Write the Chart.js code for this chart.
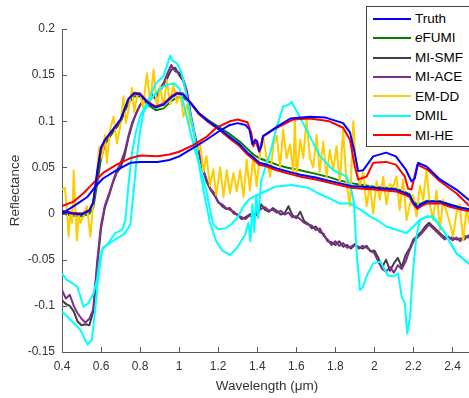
<!DOCTYPE html>
<html lang="en">
<head>
<meta charset="UTF-8">
<title>Target signatures</title>
<script src="https://cdn.jsdelivr.net/npm/chart.js@4.4.1/dist/chart.umd.min.js"></script>
<style>
    html, body { margin: 0; padding: 0; background: #fff; overflow: hidden; }
    .wrap { position: relative; width: 469px; height: 398px; overflow: hidden; }
    #spectra { position: absolute; left: 0; top: 0; }
    .legend {
        position: absolute; left: 366px; top: 6px;
        width: 130px; height: 141px; box-sizing: border-box;
        border: 1px solid #444; background: #fff;
        padding-top: 2px;
        font: 13.5px "Liberation Sans", Arial, sans-serif; color: #000;
    }
    .legend div { position: relative; height: 19.45px; line-height: 19.45px; padding-left: 48px; }
    .legend span { position: absolute; left: 6px; top: calc(50% - 1px); width: 38px; height: 2px; }
</style>
</head>
<body>
<div class="wrap">
    <canvas id="spectra" width="480" height="398"></canvas>
    <div class="legend" id="legend"></div>
</div>

<script>
// --- axis ticks ---
const xTicks = [0.4, 0.6, 0.8, 1.0, 1.2, 1.4, 1.6, 1.8, 2.0, 2.2, 2.4];
const yTicks = [-0.15, -0.1, -0.05, 0, 0.05, 0.1, 0.15, 0.2];

// --- spectra (wavelength in um, reflectance) ---
const truthAWl = [0.40,0.45,0.50,0.54,0.56,0.58,0.60,0.62,0.66,0.70,
    0.74,0.77,0.80,0.84,0.88,0.92,0.96,0.99,1.02,1.06,
    1.10,1.15,1.21,1.26,1.31,1.35,1.38,1.41,1.45,1.50,
    1.55,1.62,1.70,1.76,1.82,1.88,1.94,2.00,2.06,2.11,
    2.15,2.18,2.20,2.22,2.24,2.27,2.34,2.39,2.45,2.50];
const truthA = [0.002,0.000,-0.001,0.003,0.012,0.045,0.072,0.080,0.091,0.102,
    0.124,0.130,0.129,0.120,0.115,0.118,0.126,0.130,0.129,0.120,
    0.109,0.100,0.091,0.083,0.075,0.066,0.061,0.055,0.053,0.049,
    0.046,0.042,0.039,0.036,0.033,0.030,0.029,0.028,0.027,0.026,
    0.023,0.020,0.012,0.007,0.010,0.013,0.013,0.009,0.006,0.004];
const miheA = [0.003,0.001,0.000,0.004,0.012,0.043,0.070,0.079,0.090,0.101,
    0.124,0.131,0.130,0.121,0.116,0.119,0.127,0.131,0.130,0.119,
    0.108,0.099,0.090,0.081,0.073,0.064,0.059,0.053,0.051,0.047,
    0.044,0.040,0.037,0.034,0.031,0.028,0.027,0.026,0.025,0.024,
    0.021,0.018,0.010,0.005,0.008,0.011,0.011,0.007,0.004,0.002];
const efumiA = [0.000,-0.002,-0.003,0.000,0.006,0.032,0.060,0.075,0.088,0.099,
    0.120,0.127,0.127,0.118,0.112,0.114,0.122,0.126,0.126,0.119,
    0.109,0.101,0.093,0.086,0.078,0.070,0.064,0.060,0.057,0.053,
    0.050,0.047,0.043,0.040,0.036,0.033,0.031,0.029,0.028,0.027,
    0.024,0.021,0.014,0.009,0.011,0.014,0.013,0.010,0.006,0.004];

const truthBWl = [0.40,0.46,0.53,0.57,0.61,0.68,0.75,0.80,0.89,0.95,
    1.00,1.07,1.14,1.21,1.26,1.30,1.34,1.36,1.375,1.39,
    1.40,1.41,1.42,1.43,1.50,1.57,1.67,1.75,1.84,1.875,
    1.90,1.917,1.943,1.994,2.06,2.11,2.16,2.19,2.207,2.224,
    2.267,2.336,2.42,2.483,2.50];
const truthB = [0.000,0.008,0.018,0.029,0.038,0.047,0.055,0.056,0.056,0.058,
    0.062,0.071,0.080,0.090,0.096,0.098,0.096,0.091,0.075,0.080,
    0.078,0.068,0.072,0.084,0.094,0.103,0.105,0.104,0.098,0.088,
    0.065,0.046,0.047,0.062,0.066,0.062,0.048,0.035,0.038,0.055,
    0.051,0.037,0.026,0.015,0.013];

const miheBWl = [0.40,0.46,0.51,0.56,0.61,0.68,0.75,0.80,0.89,0.95,
    1.00,1.07,1.14,1.19,1.26,1.30,1.35,1.37,1.38,1.39,
    1.41,1.43,1.50,1.585,1.67,1.77,1.84,1.875,1.90,1.917,
    1.96,1.994,2.06,2.11,2.156,2.173,2.19,2.22,2.276,2.336,
    2.42,2.483,2.50];
const miheB = [0.008,0.013,0.022,0.033,0.044,0.053,0.060,0.063,0.062,0.064,
    0.067,0.074,0.083,0.093,0.100,0.102,0.099,0.087,0.073,0.080,
    0.067,0.084,0.093,0.102,0.103,0.100,0.093,0.080,0.051,0.037,
    0.040,0.055,0.056,0.053,0.040,0.027,0.026,0.053,0.047,0.035,
    0.022,0.009,0.007];

// MI-ACE and MI-SMF share one 0.02 um grid
const aceWl = [0.40,0.42,0.44,0.46,0.48,0.50,0.52,0.54,0.56,0.58,
    0.60,0.62,0.64,0.66,0.68,0.70,0.72,0.74,0.76,0.78,
    0.80,0.82,0.84,0.86,0.88,0.90,0.92,0.94,0.96,0.98,
    1.00,1.02,1.04,1.06,1.08,1.10,1.12,1.14,1.16,1.18,
    1.20,1.22,1.24,1.26,1.28,1.30,1.32,1.34,1.36,1.38,
    1.40,1.42,1.44,1.46,1.48,1.50,1.52,1.54,1.56,1.58,
    1.60,1.62,1.64,1.66,1.68,1.70,1.72,1.74,1.76,1.78,
    1.80,1.82,1.84,1.86,1.88,1.90,1.92,1.94,1.96,1.98,
    2.00,2.02,2.04,2.06,2.08,2.10,2.12,2.14,2.16,2.18,
    2.20,2.22,2.24,2.26,2.28,2.30,2.32,2.34,2.36,2.38,
    2.40,2.42,2.44,2.46,2.48,2.50];
const miAce = [-0.083,-0.092,-0.088,-0.100,-0.108,-0.114,-0.118,-0.114,-0.104,-0.052,
    -0.012,0.009,0.021,0.034,0.046,0.055,0.066,0.084,0.099,0.108,
    0.117,0.124,0.117,0.129,0.124,0.136,0.141,0.152,0.161,0.154,
    0.153,0.146,0.133,0.107,0.086,0.068,0.050,0.037,0.027,0.022,
    0.012,0.010,0.006,0.004,0.002,-0.002,-0.004,-0.006,-0.002,-0.004,
    0.002,0.005,0.007,0.003,0.004,0.001,0.003,-0.001,0.001,-0.004,
    -0.003,-0.006,-0.010,-0.012,-0.013,-0.018,-0.016,-0.024,-0.028,-0.034,
    -0.030,-0.035,-0.032,-0.037,-0.036,-0.033,-0.038,-0.035,-0.037,-0.040,
    -0.043,-0.052,-0.060,-0.063,-0.058,-0.064,-0.056,-0.060,-0.052,-0.040,
    -0.030,-0.026,-0.022,-0.017,-0.012,-0.016,-0.020,-0.024,-0.028,-0.025,
    -0.029,-0.026,-0.030,-0.024,-0.026,-0.022];
const miSmf = [-0.094,-0.098,-0.100,-0.106,-0.117,-0.121,-0.120,-0.121,-0.106,-0.058,
    -0.016,0.007,0.019,0.033,0.044,0.050,0.062,0.082,0.097,0.109,
    0.118,0.122,0.121,0.125,0.129,0.131,0.140,0.147,0.156,0.158,
    0.150,0.144,0.130,0.104,0.083,0.066,0.049,0.035,0.026,0.020,
    0.013,0.008,0.005,0.006,0.000,-0.001,-0.006,-0.004,-0.001,0.000,
    -0.002,0.010,0.004,0.002,0.006,0.003,-0.001,0.000,0.008,-0.002,
    -0.005,0.002,-0.008,-0.011,-0.016,-0.014,-0.020,-0.022,-0.030,-0.031,
    -0.034,-0.030,-0.036,-0.034,-0.038,-0.034,-0.036,-0.038,-0.035,-0.041,
    -0.040,-0.048,-0.058,-0.050,-0.062,-0.054,-0.048,-0.058,-0.045,-0.038,
    -0.028,-0.024,-0.020,-0.014,-0.010,-0.014,-0.018,-0.022,-0.026,-0.027,
    -0.026,-0.028,-0.027,-0.028,-0.024,-0.023];

const emddWl = [0.400,0.415,0.425,0.434,0.443,0.452,0.460,0.468,0.477,0.485,
    0.495,0.510,0.528,0.545,0.562,0.575,0.590,0.605,0.620,0.630,
    0.645,0.664,0.681,0.698,0.715,0.727,0.740,0.758,0.770,0.785,
    0.800,0.815,0.835,0.852,0.869,0.886,0.903,0.920,0.937,0.954,
    0.970,0.988,1.005,1.022,1.040,1.056,1.073,1.090,1.107,1.124,
    1.140,1.158,1.175,1.190,1.210,1.227,1.244,1.260,1.278,1.295,
    1.312,1.330,1.346,1.362,1.380,1.397,1.414,1.430,1.448,1.466,
    1.483,1.500,1.517,1.533,1.550,1.568,1.585,1.593,1.602,1.620,
    1.636,1.652,1.670,1.687,1.704,1.720,1.738,1.755,1.772,1.790,
    1.806,1.823,1.840,1.857,1.875,1.892,1.908,1.926,1.943,1.960,
    1.977,1.994,2.011,2.028,2.045,2.062,2.079,2.096,2.113,2.130,
    2.147,2.165,2.182,2.199,2.216,2.233,2.250,2.267,2.284,2.300,
    2.318,2.336,2.352,2.370,2.386,2.403,2.420,2.437,2.455,2.472,
    2.490,2.500];
const emdd = [0.026,0.028,0.004,-0.025,0.002,-0.010,0.047,0.004,-0.029,0.000,
    -0.010,-0.003,0.008,-0.025,0.015,0.035,0.072,0.060,0.085,0.055,
    0.090,0.105,0.076,0.094,0.127,0.098,0.112,0.136,0.110,0.128,
    0.131,0.115,0.152,0.120,0.156,0.115,0.138,0.116,0.145,0.118,
    0.140,0.120,0.132,0.105,0.118,0.098,0.092,0.065,0.078,0.045,
    0.062,0.030,0.048,0.020,0.050,0.018,0.047,0.022,0.044,0.024,
    0.047,0.018,0.058,0.025,0.062,0.030,0.065,0.084,0.060,0.040,
    0.075,0.084,0.050,0.091,0.060,0.075,0.045,0.102,0.040,0.080,
    0.060,0.102,0.060,0.050,0.085,0.045,0.078,0.040,0.069,0.047,
    0.073,0.032,0.091,0.033,0.008,0.100,0.047,0.030,0.045,0.008,
    0.030,0.000,0.035,0.015,0.040,0.010,0.032,0.029,0.040,0.004,
    0.037,-0.007,0.010,0.020,-0.003,0.030,0.015,0.047,0.010,-0.007,
    0.025,-0.018,0.015,0.002,-0.010,-0.025,0.000,0.010,-0.029,0.005,
    -0.014,-0.010];

const dmilPWl = [0.400,0.443,0.494,0.531,0.553,0.570,0.587,0.605,0.638,0.673,
    0.707,0.724,0.740,0.758,0.775,0.800,0.830,0.852,0.877,0.900,
    0.920,0.940,0.954,0.965,0.988,1.013,1.039,1.073,1.100,1.124,
    1.158,1.190,1.220,1.262,1.300,1.338,1.355,1.365,1.375,1.385,
    1.395,1.405,1.420,1.449,1.466,1.500,1.533,1.560,1.576,1.600,
    1.652,1.722,1.790,1.857,1.880,1.895,1.910,1.926,1.940,1.960,
    1.994,2.030,2.070,2.096,2.122,2.140,2.156,2.168,2.183,2.190,
    2.200,2.215,2.233,2.260,2.300,2.352,2.420,2.483,2.500];
const dmilP = [-0.106,-0.115,-0.126,-0.142,-0.137,-0.104,-0.068,-0.039,-0.032,-0.021,
    -0.018,-0.008,0.030,0.065,0.085,0.105,0.118,0.127,0.140,0.145,
    0.149,0.162,0.171,0.166,0.163,0.152,0.127,0.091,0.055,0.026,
    -0.010,-0.030,-0.040,-0.045,-0.036,-0.023,-0.010,-0.030,0.010,-0.020,
    0.020,-0.005,0.035,0.055,0.065,0.094,0.116,0.118,0.121,0.112,
    0.091,0.062,0.047,0.040,0.028,0.012,-0.045,-0.083,-0.080,-0.068,
    -0.054,-0.052,-0.067,-0.068,-0.065,-0.090,-0.097,-0.130,-0.112,-0.086,
    -0.057,-0.025,-0.007,-0.004,-0.003,-0.018,-0.043,-0.054,-0.058];

const dmilQWl = [0.400,0.426,0.450,0.477,0.495,0.510,0.536,0.562,0.579,0.596,
    0.610,0.640,0.680,0.720,0.750,0.765,0.784,0.800,0.817,0.852,
    0.886,0.920,0.950,0.975,1.005,1.039,1.073,1.108,1.140,1.158,
    1.175,1.200,1.240,1.270,1.300,1.330,1.360,1.420,1.490,1.576,
    1.661,1.712,1.764,1.823,1.875,1.930,1.977,2.020,2.062,2.120,
    2.165,2.200,2.233,2.270,2.300,2.352,2.420,2.483,2.500];
const dmilQ = [-0.065,-0.072,-0.075,-0.079,-0.090,-0.101,-0.097,-0.086,-0.072,-0.047,
    -0.037,-0.033,-0.027,-0.022,-0.012,0.020,0.062,0.090,0.109,0.123,
    0.132,0.138,0.140,0.141,0.134,0.105,0.075,0.050,0.024,0.004,
    -0.012,-0.017,-0.016,-0.011,-0.004,0.008,0.016,0.022,0.029,0.031,
    0.028,0.022,0.017,0.011,0.011,0.004,-0.003,-0.008,-0.014,-0.018,
    -0.021,-0.014,-0.007,-0.003,-0.004,-0.018,-0.043,-0.054,-0.058];

// legend order; `order` decides stacking (lower is drawn on top)
const methods = [
    { name: 'Truth',  html: 'Truth',     color: '#0000ff', order: 0, curves: [[truthAWl, truthA], [truthBWl, truthB]] },
    { name: 'eFUMI',  html: '<i>e</i>FUMI', color: '#008000', order: 6, curves: [[truthAWl, efumiA]] },
    { name: 'MI-SMF', html: 'MI-SMF',    color: '#404040', order: 5, curves: [[aceWl, miSmf]] },
    { name: 'MI-ACE', html: 'MI-ACE',    color: '#7e2f8e', order: 4, curves: [[aceWl, miAce]] },
    { name: 'EM-DD',  html: 'EM-DD',     color: '#ffcc00', order: 3, curves: [[emddWl, emdd]] },
    { name: 'DMIL',   html: 'DMIL',      color: '#00ffff', order: 2, curves: [[dmilPWl, dmilP], [dmilQWl, dmilQ]] },
    { name: 'MI-HE',  html: 'MI-HE',     color: '#ff0000', order: 1, curves: [[truthAWl, miheA], [miheBWl, miheB]] }
];

const axisColor = '#5a5a5a';
const labelColor = '#333';

const datasets = [];
methods.forEach(m => {
    m.curves.forEach(([wl, vals]) => {
        datasets.push({
            label: m.name,
            data: wl.map((w, i) => ({ x: w, y: vals[i] })),
            borderColor: m.color,
            borderWidth: 2,
            borderJoinStyle: 'round',
            pointRadius: 0,
            tension: 0,
            fill: false,
            order: m.order
        });
    });
});

// matlab-style ticks pointing into the plot
const innerTicks = {
    id: 'innerTicks',
    afterDraw(chart) {
        const { ctx, chartArea, scales } = chart;
        ctx.save();
        ctx.strokeStyle = axisColor;
        ctx.lineWidth = 1;
        ctx.beginPath();
        scales.x.ticks.forEach((t, i) => {
            const px = Math.round(scales.x.getPixelForTick(i)) + 0.5;
            ctx.moveTo(px, chartArea.bottom);
            ctx.lineTo(px, chartArea.bottom - 5);
        });
        scales.y.ticks.forEach((t, i) => {
            const py = Math.round(scales.y.getPixelForTick(i)) + 0.5;
            ctx.moveTo(chartArea.left, py);
            ctx.lineTo(chartArea.left + 5, py);
        });
        ctx.stroke();
        ctx.restore();
    }
};

const fmt = v => String(+Number(v).toFixed(2));

Chart.defaults.font.family = '"Liberation Sans", Arial, sans-serif';

new Chart(document.getElementById('spectra'), {
    type: 'line',
    data: { datasets },
    options: {
        responsive: false,
        animation: false,
        devicePixelRatio: 1,
        events: [],
        layout: { padding: { left: 0, top: 29, right: 8, bottom: 0 } },
        plugins: { legend: { display: false }, tooltip: { enabled: false } },
        scales: {
            x: {
                type: 'linear',
                min: 0.4,
                max: 2.5,
                afterBuildTicks: s => { s.ticks = xTicks.map(value => ({ value })); },
                afterFit: s => { s.height = 46; },
                ticks: { callback: fmt, color: labelColor, font: { size: 12 }, padding: 7, maxRotation: 0, autoSkip: false },
                grid: { drawOnChartArea: false, drawTicks: false },
                border: { display: true, color: axisColor, width: 1 },
                title: { display: true, text: 'Wavelength (\u03bcm)', color: labelColor, font: { size: 13.5 }, padding: { top: 0, bottom: 4 } }
            },
            y: {
                min: -0.15,
                max: 0.2,
                afterBuildTicks: s => { s.ticks = yTicks.map(value => ({ value })); },
                afterFit: s => { s.width = 62; },
                ticks: { callback: fmt, color: labelColor, font: { size: 12 }, padding: 7 },
                grid: { drawOnChartArea: false, drawTicks: false },
                border: { display: true, color: axisColor, width: 1 },
                title: { display: true, text: 'Reflectance', color: labelColor, font: { size: 13.5 }, padding: { top: 7, bottom: 0 } }
            }
        }
    },
    plugins: [innerTicks]
});

// boxed legend, one entry per method
const legend = document.getElementById('legend');
methods.forEach(m => {
    const row = document.createElement('div');
    row.innerHTML = '<span style="background:' + m.color + '"></span>' + m.html;
    legend.appendChild(row);
});
</script>
</body>
</html>
